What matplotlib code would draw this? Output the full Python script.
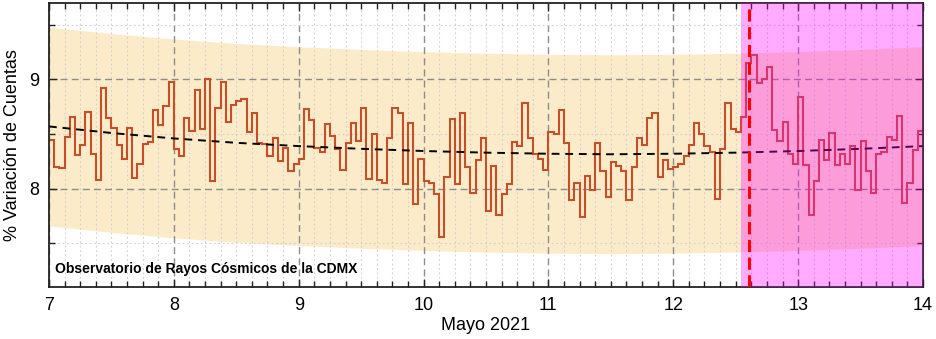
import numpy as np
import matplotlib
matplotlib.use('Agg')
import matplotlib.pyplot as plt
from matplotlib.ticker import MultipleLocator

plt.rcParams['font.family'] = ['Liberation Sans', 'DejaVu Sans']

# hourly count variation (%), starting 7 May 2021 00h
start_day = 7
counts = [
    8.45, 8.20, 8.19, 8.47, 8.66, 8.31, 8.40, 8.70, 8.32, 8.08,
    8.92, 8.65, 8.56, 8.40, 8.27, 8.56, 8.10, 8.23, 8.41, 8.43,
    8.72, 8.58, 8.76, 8.98, 8.36, 8.30, 8.65, 8.53, 8.90, 8.55,
    9.00, 8.07, 8.74, 8.98,
    8.61, 8.77, 8.80, 8.82, 8.52, 8.69, 8.42, 8.41, 8.30, 8.46,
    8.25, 8.37, 8.16, 8.23, 8.27, 8.73, 8.63, 8.37, 8.34, 8.59,
    8.48, 8.36, 8.17, 8.42, 8.60, 8.44, 8.74, 8.09, 8.50, 8.08,
    8.05, 8.46, 8.74,
    8.69, 8.04, 8.60, 7.86, 8.27, 8.07, 8.05, 7.95, 7.56, 8.11,
    8.64, 8.04, 8.69, 8.20, 7.96, 8.26, 8.46, 7.80, 8.21, 7.76,
    7.95, 8.04, 8.43, 8.39, 8.78, 8.46, 8.32, 8.27, 8.17, 8.52,
    8.50, 8.72, 8.42, 7.90,
    8.05, 7.74, 8.12, 7.99, 8.42, 8.16, 7.92, 8.24, 8.21, 8.16,
    7.90, 8.20, 8.46, 8.40, 8.65, 8.69, 8.11, 8.26, 8.18, 8.20,
    8.23, 8.30, 8.40, 8.60, 8.50, 8.39, 8.34, 7.91, 8.36, 8.78,
    8.55, 8.52, 8.66,
    9.15, 9.22, 8.97, 9.00, 9.11, 8.54, 8.44, 8.61, 8.32, 8.23,
    8.84, 8.22, 7.76, 8.07, 8.45, 8.26, 8.51, 8.22, 8.32, 8.23,
    8.39, 7.99, 8.44, 8.16, 7.96, 8.32, 8.34, 8.47, 8.45, 8.67,
    7.87, 8.05, 8.35, 8.53,
]

# trend curve and its band, every half day
trend_days = [7, 7.5, 8, 8.5, 9, 9.5, 10, 10.5, 11, 11.5, 12, 12.5, 13, 13.5, 14]
trend = [8.57, 8.51, 8.46, 8.42, 8.39, 8.365, 8.345, 8.33, 8.32, 8.315,
         8.32, 8.33, 8.345, 8.365, 8.39]
band_upper = [9.48, 9.42, 9.37, 9.33, 9.30, 9.275, 9.255, 9.24, 9.23, 9.225,
              9.23, 9.24, 9.255, 9.275, 9.30]
band_lower = [7.66, 7.60, 7.55, 7.51, 7.48, 7.455, 7.435, 7.42, 7.41, 7.405,
              7.41, 7.42, 7.435, 7.455, 7.48]

# event window and onset
event_start = 12 + 13 / 24
event_end = 14
onset = 12 + 14.5 / 24

edges = start_day + np.arange(len(counts) + 1) / 24

fig = plt.figure(figsize=(9.37, 3.39), dpi=100)
ax = fig.add_axes([49 / 937, 1 - 287 / 339, 874 / 937, 284 / 339])

ax.fill_between(trend_days, band_lower, band_upper, color='#fcebc8', lw=0, zorder=1)
ax.stairs(counts, edges, baseline=None, color='#c4502a', lw=1.5, zorder=2)
ax.plot(trend_days, trend, color='black', lw=1.4, ls=(0, (4, 3)), zorder=3)

ax.axvspan(event_start, event_end, color='#ff00ff', alpha=0.33, lw=0, zorder=4)
ax.axvline(onset, color='red', lw=2.2, ls=(0, (4, 1.8)), zorder=5)

ax.set_xlim(7, 14)
ax.set_ylim(7.10, 9.70)
ax.xaxis.set_major_locator(MultipleLocator(1))
ax.xaxis.set_minor_locator(MultipleLocator(1 / 8))
ax.yaxis.set_major_locator(MultipleLocator(1))
ax.yaxis.set_minor_locator(MultipleLocator(0.5))

ax.grid(which='major', color='#8c8c8c', lw=1.0, ls=(0, (5, 3)))
ax.grid(which='minor', color='#cfcfcf', lw=0.8, ls=(0, (1.5, 2.5)))

ax.tick_params(which='both', direction='in', top=True, right=True,
               labelsize=13, width=1.0, color='#222222')
ax.tick_params(which='major', length=6, pad=7)
ax.tick_params(which='minor', length=4)
for sp in ax.spines.values():
    sp.set_linewidth(1.3)
    sp.set_color('#222222')

ax.set_xlabel('Mayo 2021', fontsize=13, labelpad=2)
ax.set_ylabel('% Variación de Cuentas', fontsize=13, labelpad=6)

ax.text(0.007, 0.05, 'Observatorio de Rayos Cósmicos de la CDMX', transform=ax.transAxes,
        fontsize=10, fontweight='bold', color='black', zorder=6)

fig.savefig('out.png', dpi=100)
